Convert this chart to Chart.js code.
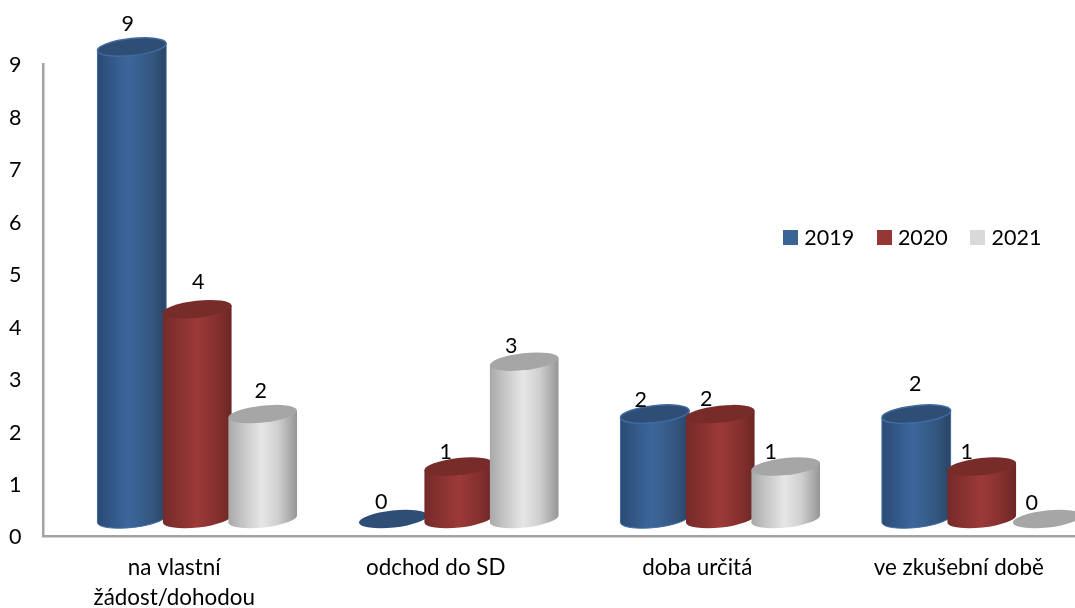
<!DOCTYPE html>
<html lang="cs">
<head>
<meta charset="utf-8">
<title>Chart</title>
<script src="https://cdn.jsdelivr.net/npm/chart.js@4"></script>
<style>
html,body{margin:0;padding:0;background:#fff;overflow:hidden}
#wrap{width:1075px;height:608px;overflow:hidden;position:relative}
canvas{display:block}
</style>
</head>
<body>
<div id="wrap"><canvas id="c" width="1100" height="608" style="width:1100px;height:608px"></canvas></div>
<script>
const categories = [["na vlastní","žádost/dohodou"],"odchod do SD","doba určitá","ve zkušební době"];
const series2019 = [9,0,2,2];
const series2020 = [4,1,2,1];
const series2021 = [2,3,1,0];
const yTicks = [0,1,2,3,4,5,6,7,8,9];

const FONT = 'Lato';
const DIGIT_SIZE = 21.5;
const LABEL_SIZE = 22.4;
const DEPTH_X = 23, DEPTH_Y = -17, RY = 8.5, TILT = 6.2*Math.PI/180;
const palette = [
  {fill:'#3A6496', top:'#2E4E76', rim:'#3E6BA2', stops:[[0,'#2A4A72'],[.12,'#2F5280'],[.45,'#3C679C'],[.8,'#33567F'],[1,'#2A4464']]},
  {fill:'#953735', top:'#772C2A', rim:null, stops:[[0,'#742A29'],[.15,'#812F2E'],[.5,'#9C3A38'],[.82,'#822F2E'],[1,'#6A2625']]},
  {fill:'#D9D9D9', top:'#A6A6A6', rim:null, stops:[[0,'#A8A8A8'],[.2,'#C4C4C4'],[.48,'#E6E6E6'],[.72,'#D0D0D0'],[1,'#959595']]}
];
const labelOffsets = [
  [[19,-39.5],[11,-33.5],[9,-31.5],[22,-47.5]],
  [[24,-44.5],[10,-31.5],[9,-32.5],[8,-31.5]],
  [[21,-40.5],[10,-32.5],[8,-31.5],[7.5,-32.5]]
];

function swatch(color){
  const s=document.createElement('canvas');
  s.width=15;s.height=15;
  const g=s.getContext('2d');
  g.fillStyle=color;g.fillRect(0,0,15,15);
  return s;
}

function ellipsePath(ctx,cx,cy,rx,start,end,ccw){
  ctx.ellipse(cx,cy,rx,RY,-TILT,start,end,ccw);
}

const cylinders = {
  id:'cylinders',
  beforeDatasetDraw(){ return false; },
  afterDatasetsDraw(chart){
    const ctx=chart.ctx;
    chart.data.datasets.forEach((ds,di)=>{
      const p=palette[di];
      chart.getDatasetMeta(di).data.forEach((el,i)=>{
        const rx=el.width/2, cx=el.x+DEPTH_X, top=el.y+DEPTH_Y, base=el.base+DEPTH_Y;
        ctx.save();
        if(ds.data[i]>0){
          const lx=Math.cos(TILT)*rx, ly=Math.sin(TILT)*rx;
          const g=ctx.createLinearGradient(cx-rx,0,cx+rx,0);
          p.stops.forEach(s=>g.addColorStop(s[0],s[1]));
          ctx.beginPath();
          ctx.moveTo(cx-lx,top+ly);
          ctx.lineTo(cx-lx,base+ly);
          ellipsePath(ctx,cx,base,rx,Math.PI,0,true);
          ctx.lineTo(cx+lx,top-ly);
          ctx.closePath();
          ctx.fillStyle=g;ctx.fill();
          if(p.rim){ctx.strokeStyle=p.rim;ctx.lineWidth=1;ctx.stroke();}
        }
        ctx.beginPath();
        ellipsePath(ctx,cx,top,rx,0,2*Math.PI,false);
        ctx.fillStyle=p.top;ctx.fill();
        if(p.rim && ds.data[i]>0){ctx.strokeStyle=p.rim;ctx.lineWidth=1.5;ctx.stroke();}
        ctx.restore();
      });
    });
    ctx.save();
    ctx.fillStyle='#000';
    ctx.font=DIGIT_SIZE+'px '+FONT;
    ctx.textAlign='center';ctx.textBaseline='middle';
    chart.data.datasets.forEach((ds,di)=>{
      chart.getDatasetMeta(di).data.forEach((el,i)=>{
        const o=labelOffsets[di][i];
        ctx.fillText(String(ds.data[i]),el.x+o[0],el.y+o[1]);
      });
    });
    ctx.restore();
  },
  afterLayout(chart){
    const l=chart.legend, w=l.right-l.left;
    l.left=760.5; l.right=760.5+w; l.top=200; l.bottom=280;
  }
};

new Chart(document.getElementById('c'),{
  type:'bar',
  data:{
    labels:categories,
    datasets:[
      {label:'2019',data:series2019,backgroundColor:palette[0].fill},
      {label:'2020',data:series2020,backgroundColor:palette[1].fill},
      {label:'2021',data:series2021,backgroundColor:palette[2].fill}
    ]
  },
  options:{
    responsive:false,
    animation:false,
    devicePixelRatio:1,
    layout:{padding:{top:24,right:10.5,bottom:0,left:0}},
    datasets:{bar:{categoryPercentage:0.751,barPercentage:1.055}},
    scales:{
      x:{
        grid:{display:false,drawTicks:false},
        border:{display:true,color:'#A3A3A3',width:2.5},
        ticks:{color:'#000',font:{family:FONT,size:LABEL_SIZE,lineHeight:1.34},padding:17,maxRotation:0,autoSkip:false},
        afterFit(s){s.height=72;}
      },
      y:{
        min:0,max:9,
        afterBuildTicks(s){s.ticks=yTicks.map(v=>({value:v}));},
        grid:{display:false,drawTicks:false},
        border:{display:true,color:'#A3A3A3',width:2.5},
        ticks:{color:'#000',font:{family:FONT,size:DIGIT_SIZE},padding:22,labelOffset:1.5},
        afterFit(s){s.width=43.5;}
      }
    },
    plugins:{
      legend:{
        display:true,
        position:'top',
        align:'start',
        maxHeight:40,
        labels:{
          usePointStyle:true,
          pointStyleWidth:6,
          boxHeight:15,
          color:'#000',
          font:{family:FONT,size:DIGIT_SIZE},
          padding:27,
          generateLabels(chart){
            return Chart.defaults.plugins.legend.labels.generateLabels(chart).map((it,i)=>{
              it.pointStyle=swatch(palette[i].fill);
              return it;
            });
          }
        }
      },
      tooltip:{enabled:false},
      title:{display:false}
    }
  },
  plugins:[cylinders]
});
</script>
</body>
</html>
